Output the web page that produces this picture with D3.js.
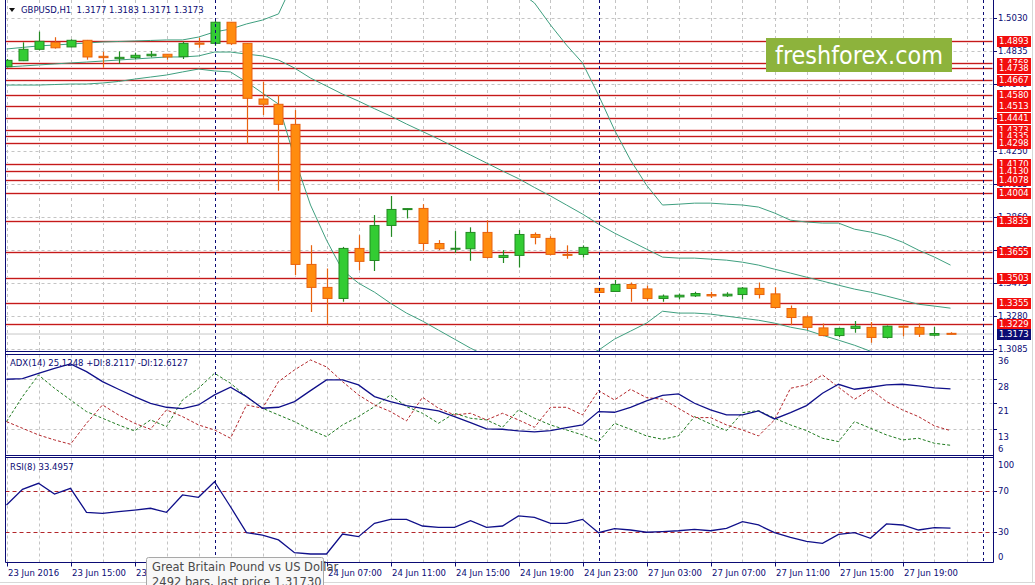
<!DOCTYPE html>
<html>
<head>
<meta charset="utf-8">
<script src="https://cdn.jsdelivr.net/npm/d3@7"></script>
<style>
  html, body { margin: 0; padding: 0; background: #fff; }
  svg { display: block; }
  text { font-family: "DejaVu Sans", sans-serif; }
</style>
</head>
<body>
<svg width="1035" height="585"></svg>
<script>
// GBPUSD H1, 23 Jun 11:00 -> 27 Jun 22:00 (one value per bar)
const open  = [1.4744,1.4779,1.4846,1.4887,1.4860,1.4899,1.4805,1.4791,1.4797,1.4808,1.4817,1.4803,1.4883,1.4881,1.5005,1.4881,1.4554,1.4523,1.4405,1.3582,
               1.3447,1.3382,1.3676,1.3605,1.3811,1.3906,1.3911,1.3705,1.3674,1.3674,1.3770,1.3623,1.3635,1.3758,1.3735,1.3641,1.3641,1.3441,1.3423,1.3464,
               1.3438,1.3382,1.3391,1.3397,1.3405,1.3397,1.3405,1.3441,1.3409,1.3323,1.3274,1.3209,1.3164,1.3206,1.3212,1.3153,1.3219,1.3212,1.3166,1.3177];
const high  = [1.4789,1.4887,1.4950,1.4917,1.4905,1.4901,1.4832,1.4834,1.4826,1.4836,1.4818,1.4891,1.4914,1.5014,1.5007,1.4883,1.4656,1.4577,1.4489,1.3695,
               1.3558,1.3685,1.3754,1.3872,1.3984,1.3911,1.3936,1.3725,1.3778,1.3800,1.3842,1.3666,1.3784,1.3770,1.3748,1.3694,1.3694,1.3443,1.3490,1.3476,
               1.3458,1.3405,1.3411,1.3421,1.3421,1.3419,1.3450,1.3476,1.3448,1.3341,1.3284,1.3235,1.3212,1.3250,1.3244,1.3223,1.3225,1.3235,1.3215,1.3183];
const low   = [1.4739,1.4777,1.4840,1.4850,1.4857,1.4785,1.4738,1.4761,1.4787,1.4799,1.4785,1.4789,1.4855,1.4866,1.4871,1.4293,1.4460,1.4015,1.3519,1.3303,
               1.3231,1.3362,1.3548,1.3544,1.3744,1.3852,1.3662,1.3666,1.3650,1.3603,1.3617,1.3591,1.3564,1.3700,1.3635,1.3615,1.3623,1.3413,1.3422,1.3362,
               1.3368,1.3362,1.3376,1.3391,1.3385,1.3391,1.3376,1.3382,1.3323,1.3225,1.3196,1.3160,1.3156,1.3180,1.3121,1.3147,1.3160,1.3156,1.3160,1.3171];
const close = [1.4781,1.4846,1.4893,1.4855,1.4899,1.4801,1.4797,1.4799,1.4811,1.4817,1.4801,1.4881,1.4876,1.5005,1.4879,1.4558,1.4523,1.4405,1.3582,1.3447,
               1.3382,1.3676,1.3600,1.3811,1.3905,1.3910,1.3705,1.3674,1.3677,1.3770,1.3623,1.3635,1.3758,1.3741,1.3641,1.3637,1.3682,1.3417,1.3464,1.3441,
               1.3382,1.3396,1.3401,1.3411,1.3397,1.3407,1.3443,1.3405,1.3329,1.3270,1.3212,1.3164,1.3206,1.3219,1.3153,1.3219,1.3216,1.3172,1.3176,1.3173];

// Bollinger bands
const bbUpper  = [1.4848,1.4857,1.4866,1.4871,1.4877,1.4883,1.4889,1.4892,1.4895,1.4898,1.4901,1.4901,1.4918,1.4948,1.4965,1.4995,1.5018,1.5054,1.5254,1.5430,
                  1.5548,1.5606,1.5606,1.5577,1.5548,1.5518,1.5477,1.5442,1.5401,1.5359,1.5312,1.5254,1.5189,1.5118,1.4989,1.4871,1.4766,1.4577,1.4372,1.4195,
                  1.4048,1.3931,1.3936,1.3942,1.3942,1.3936,1.3931,1.3919,1.3884,1.3842,1.3831,1.3825,1.3825,1.3789,1.3772,1.3748,1.3713,1.3666,1.3625,1.3578];
const bbMiddle = [1.4742,1.4748,1.4754,1.4760,1.4766,1.4771,1.4777,1.4783,1.4789,1.4795,1.4801,1.4801,1.4807,1.4830,1.4830,1.4818,1.4807,1.4783,1.4736,1.4677,
                  1.4630,1.4583,1.4542,1.4497,1.4454,1.4407,1.4363,1.4319,1.4272,1.4225,1.4178,1.4131,1.4086,1.4034,1.3984,1.3931,1.3878,1.3819,1.3766,1.3719,
                  1.3672,1.3625,1.3619,1.3619,1.3613,1.3607,1.3595,1.3578,1.3554,1.3531,1.3507,1.3484,1.3460,1.3437,1.3419,1.3396,1.3372,1.3348,1.3337,1.3325];
const bbLower  = [1.4636,1.4636,1.4636,1.4639,1.4642,1.4642,1.4648,1.4657,1.4671,1.4683,1.4695,1.4713,1.4730,1.4719,1.4713,1.4654,1.4589,1.4524,1.4207,1.3931,
                  1.3725,1.3548,1.3472,1.3419,1.3354,1.3296,1.3249,1.3196,1.3143,1.3090,1.3043,1.3007,1.2984,1.2972,1.2984,1.3007,1.3037,1.3078,1.3143,1.3190,
                  1.3237,1.3307,1.3296,1.3296,1.3290,1.3278,1.3266,1.3254,1.3237,1.3213,1.3196,1.3166,1.3137,1.3107,1.3072,1.3049,1.3031,1.3019,1.3007,1.3002];

// ADX(14)
const adxMain = [28.0,28.2,29.8,31.3,32.6,30.3,27.3,25.0,22.8,20.8,19.6,19.2,20.3,23.3,25.6,22.8,19.3,19.6,21.3,24.6,
                 27.8,27.8,26.3,22.8,21.3,20.1,19.3,18.5,16.8,15.0,13.1,13.0,12.5,12.2,12.6,13.5,14.3,18.3,18.1,19.6,
                 21.5,23.2,23.6,20.8,18.8,17.3,17.3,18.5,16.1,18.0,20.1,23.8,26.5,25.0,25.6,26.3,26.5,26.0,25.4,25.1];
const plusDI  = [15.3,22.8,29.3,25.3,21.8,18.3,16.3,14.3,12.5,15.8,13.8,21.8,25.3,29.8,26.8,22.8,19.3,17.3,15.3,12.8,
                 10.8,14.3,16.8,19.8,23.3,19.8,17.8,14.8,17.8,16.3,15.8,13.6,18.8,16.3,14.3,12.8,11.3,9.3,14.8,13.0,
                 11.0,10.0,11.0,16.8,14.6,12.6,18.0,18.6,16.3,14.3,12.6,10.3,9.3,15.3,13.3,11.3,9.8,10.3,8.8,8.2];
const minusDI = [15.3,13.3,11.3,9.8,8.5,14.8,20.3,17.3,14.8,13.0,18.8,16.8,14.3,12.8,10.3,20.3,19.3,27.3,30.8,33.8,
                 31.7,27.3,23.3,20.3,18.3,15.5,22.6,19.3,17.3,17.8,15.8,17.8,15.8,13.6,19.6,19.6,17.3,24.6,21.8,25.0,
                 22.5,22.0,19.3,16.5,16.5,14.3,12.8,11.0,15.8,25.3,26.3,29.3,25.6,22.0,25.0,21.3,18.8,16.8,14.0,12.6];

// RSI(8)
const rsi = [56.0,71.3,77.2,66.7,72.3,48.9,47.9,49.5,51.1,52.8,48.9,65.8,63.5,78.7,54.3,29.0,26.7,21.9,9.5,8.2,
             8.2,27.7,25.1,38.1,42.0,42.0,35.5,34.2,34.2,40.7,34.2,35.5,45.3,44.0,38.1,38.1,42.0,29.0,32.9,31.6,
             29.4,30.1,30.9,32.3,30.9,33.3,39.7,36.5,29.0,24.5,20.6,18.6,27.4,29.0,23.5,37.5,36.5,31.6,33.9,33.5];

// horizontal levels and axis ticks
const levels = [1.4893,1.4768,1.4738,1.4667,1.4580,1.4513,1.4441,1.4373,1.4335,1.4298,1.4170,1.4130,1.4078,1.4004,1.3835,1.3655,1.3503,1.3355,1.3229];
const lastPrice = 1.3173;
const priceTicks = ["1.5030","1.4835","1.4640","1.4445","1.4250","1.4055","1.3860","1.3665","1.3475","1.3280","1.3085"];
const adxTicks = [36, 28, 21, 13, 6];
const rsiTicks = [100, 70, 30, 0];
const rsiLevels = [70, 30];
const timeTickBars = [0,4,8,12,16,20,24,28,32,36,40,44,48,52,56];
const timeTickLabels = ["23 Jun 2016","23 Jun 15:00","23 Jun 19:00","23 Jun 23:00","24 Jun 03:00","24 Jun 07:00","24 Jun 11:00",
                        "24 Jun 15:00","24 Jun 19:00","24 Jun 23:00","27 Jun 03:00","27 Jun 07:00","27 Jun 11:00","27 Jun 15:00","27 Jun 19:00"];
const daySeparators = [13, 37, 61];

const navy = "#0b0b74", gridCol = "#c4c4c4";
const L = 5.5, R = 993;
const mainP = {top: 0, bottom: 351.5};
const adxP = {top: 354.5, bottom: 455.5};
const rsiP = {top: 457.5, bottom: 562.5};

const svg = d3.select("svg");
const x = d3.scaleLinear().domain([0, 61]).range([6.5, 982.5]);
const yPrice = d3.scaleLinear().domain([1.3085, 1.5030]).range([349, 18]);
const yAdx = d3.scaleLinear().domain([6, 36]).range([452.6, 352.6]);
const yRsi = d3.scaleLinear().domain([0, 100]).range([562.4, 459.9]);
const n = close.length;

// clip rects
const defs = svg.append("defs");
[["clipMain", mainP], ["clipAdx", adxP], ["clipRsi", rsiP]].forEach(([id, p]) => {
  defs.append("clipPath").attr("id", id).append("rect")
    .attr("x", L + 0.5).attr("y", p.top).attr("width", R - L - 1).attr("height", p.bottom - p.top);
});

const gMain = svg.append("g").attr("clip-path", "url(#clipMain)");
const gAdx = svg.append("g").attr("clip-path", "url(#clipAdx)");
const gRsi = svg.append("g").attr("clip-path", "url(#clipRsi)");

// vertical grid every 2 bars
const gridBars = d3.range(0, 62, 2);
[[gMain, mainP], [gAdx, adxP], [gRsi, rsiP]].forEach(([g, p]) => {
  g.selectAll("line.vgrid").data(gridBars).enter().append("line")
    .attr("x1", d => Math.round(x(d)) + 0.5).attr("x2", d => Math.round(x(d)) + 0.5)
    .attr("y1", p.top).attr("y2", p.bottom)
    .attr("stroke", gridCol).attr("stroke-dasharray", "3,3");
});
gMain.selectAll("line.hgrid").data(priceTicks).enter().append("line")
  .attr("x1", L).attr("x2", R)
  .attr("y1", d => Math.round(yPrice(+d)) + 0.5).attr("y2", d => Math.round(yPrice(+d)) + 0.5)
  .attr("stroke", gridCol).attr("stroke-dasharray", "3,3");
gAdx.selectAll("line.hgrid").data([28, 21, 13]).enter().append("line")
  .attr("x1", L).attr("x2", R)
  .attr("y1", d => Math.round(yAdx(d)) + 0.5).attr("y2", d => Math.round(yAdx(d)) + 0.5)
  .attr("stroke", gridCol).attr("stroke-dasharray", "3,3");

// bid line
gMain.append("line").attr("x1", L).attr("x2", R)
  .attr("y1", yPrice(lastPrice)).attr("y2", yPrice(lastPrice))
  .attr("stroke", "#c8c8c8");

// red levels (halo + core)
levels.forEach(v => {
  const y = Math.round(yPrice(v)) + 0.5;
  gMain.append("line").attr("x1", L).attr("x2", R).attr("y1", y).attr("y2", y)
    .attr("stroke", "#f7d2d2").attr("stroke-width", 3);
  gMain.append("line").attr("x1", L).attr("x2", R).attr("y1", y).attr("y2", y)
    .attr("stroke", "#c41a1a").attr("stroke-width", 1);
});

// Bollinger bands
const bandLine = d3.line().x((d, i) => x(i)).y(d => yPrice(d));
[bbUpper, bbMiddle, bbLower].forEach(arr => {
  gMain.append("path").attr("d", bandLine(arr))
    .attr("fill", "none").attr("stroke", "#3f9f7f").attr("stroke-width", 1);
});

// candles
const candles = gMain.selectAll("g.candle").data(d3.range(n)).enter().append("g");
candles.append("line")
  .attr("x1", i => Math.round(x(i)) + 0.5).attr("x2", i => Math.round(x(i)) + 0.5)
  .attr("y1", i => yPrice(high[i])).attr("y2", i => yPrice(low[i]))
  .attr("stroke", i => close[i] >= open[i] ? "#238a23" : "#e8620e").attr("stroke-width", 1.2);
candles.append("rect")
  .attr("x", i => Math.round(x(i)) - 4)
  .attr("y", i => yPrice(Math.max(open[i], close[i])))
  .attr("width", 9)
  .attr("height", i => Math.max(1, Math.abs(yPrice(open[i]) - yPrice(close[i]))))
  .attr("fill", i => close[i] >= open[i] ? "#33cc33" : "#ff8c0f")
  .attr("stroke", i => close[i] >= open[i] ? "#238a23" : "#e8620e")
  .attr("stroke-width", 1);

// ADX lines
const adxLine = d3.line().x((d, i) => x(i)).y(d => yAdx(d));
gAdx.append("path").attr("d", adxLine(plusDI)).attr("fill", "none")
  .attr("stroke", "#1f7a1f").attr("stroke-dasharray", "3,2");
gAdx.append("path").attr("d", adxLine(minusDI)).attr("fill", "none")
  .attr("stroke", "#b3262a").attr("stroke-dasharray", "3,2");
gAdx.append("path").attr("d", adxLine(adxMain)).attr("fill", "none")
  .attr("stroke", "#10108a").attr("stroke-width", 1.3);

// RSI
rsiLevels.forEach(v => {
  gRsi.append("line").attr("x1", L).attr("x2", R)
    .attr("y1", Math.round(yRsi(v)) + 0.5).attr("y2", Math.round(yRsi(v)) + 0.5)
    .attr("stroke", "#b3262a").attr("stroke-dasharray", "4,3");
});
gRsi.append("path").attr("d", d3.line().x((d, i) => x(i)).y(d => yRsi(d))(rsi))
  .attr("fill", "none").attr("stroke", "#10108a").attr("stroke-width", 1.3);

// day separators
daySeparators.forEach(b => {
  svg.append("line").attr("x1", Math.round(x(b)) + 0.5).attr("x2", Math.round(x(b)) + 0.5)
    .attr("y1", 0).attr("y2", rsiP.bottom)
    .attr("stroke", navy).attr("stroke-dasharray", "3,3");
});

// frame
const frame = svg.append("g").attr("stroke", navy).attr("stroke-width", 1);
frame.append("line").attr("x1", L).attr("x2", L).attr("y1", 0).attr("y2", rsiP.bottom);
frame.append("line").attr("x1", R + 0.5).attr("x2", R + 0.5).attr("y1", 0).attr("y2", rsiP.bottom);
[mainP.bottom, adxP.top, adxP.bottom, rsiP.top, rsiP.bottom].forEach(y => {
  frame.append("line").attr("x1", L).attr("x2", R + 0.5).attr("y1", y).attr("y2", y);
});
svg.append("line").attr("x1", 0).attr("x2", 1035).attr("y1", 582.5).attr("y2", 582.5).attr("stroke", "#d8d8d8");
svg.append("line").attr("x1", 1032.5).attr("x2", 1032.5).attr("y1", 0).attr("y2", 583).attr("stroke", "#d8d8d8");

// price axis
const axisG = svg.append("g").attr("font-size", 8.5).attr("fill", navy);
priceTicks.forEach(t => {
  const y = Math.round(yPrice(+t)) + 0.5;
  svg.append("line").attr("x1", R).attr("x2", R + 4).attr("y1", y).attr("y2", y).attr("stroke", navy);
  axisG.append("text").attr("x", 998).attr("y", y).attr("dy", "0.35em").text(t);
});
levels.forEach(v => {
  const y = Math.round(yPrice(v));
  svg.append("rect").attr("x", 997).attr("y", y - 5).attr("width", 34).attr("height", 11).attr("fill", "#f20d0d");
  svg.append("text").attr("x", 999).attr("y", y + 0.5).attr("dy", "0.35em")
    .attr("font-size", 8.5).attr("fill", "#fff").text(v.toFixed(4));
});
{
  const y = Math.round(yPrice(lastPrice));
  svg.append("rect").attr("x", 997).attr("y", y - 5).attr("width", 34).attr("height", 11).attr("fill", "#0b0b74");
  svg.append("text").attr("x", 999).attr("y", y + 0.5).attr("dy", "0.35em")
    .attr("font-size", 8.5).attr("fill", "#fff").text(lastPrice.toFixed(4));
}

// ADX axis
adxTicks.forEach(t => {
  const y = yAdx(t);
  if (t !== 36 && t !== 6)
    svg.append("line").attr("x1", R).attr("x2", R + 4).attr("y1", Math.round(y) + 0.5).attr("y2", Math.round(y) + 0.5).attr("stroke", navy);
  axisG.append("text").attr("x", 998).attr("y", Math.min(y + 8, 449)).attr("dy", "0.35em").text(t);
});
// RSI axis
rsiTicks.forEach(t => {
  const y = Math.min(Math.max(yRsi(t), 465), 557);
  if (t === 70 || t === 30)
    svg.append("line").attr("x1", R).attr("x2", R + 4).attr("y1", Math.round(yRsi(t)) + 0.5).attr("y2", Math.round(yRsi(t)) + 0.5).attr("stroke", navy);
  axisG.append("text").attr("x", 998).attr("y", y).attr("dy", "0.35em").text(t);
});

// time axis
timeTickBars.forEach((b, k) => {
  const xx = Math.round(x(b)) + 0.5;
  svg.append("line").attr("x1", xx).attr("x2", xx).attr("y1", rsiP.bottom).attr("y2", rsiP.bottom + 4).attr("stroke", navy);
  axisG.append("text").attr("x", xx + 0.5).attr("y", 573).attr("dy", "0.35em").text(timeTickLabels[k]);
});

// headers
svg.append("path").attr("d", "M9,8 L15,8 L12,12 Z").attr("fill", "#111");
svg.append("text").attr("x", 21).attr("y", 10).attr("dy", "0.35em").attr("font-size", 8.5)
  .attr("fill", navy).style("white-space", "pre")
  .text("GBPUSD,H1  1.3177 1.3183 1.3171 1.3173");
svg.append("text").attr("x", 10).attr("y", 363).attr("dy", "0.35em").attr("font-size", 8.5)
  .attr("fill", navy).text("ADX(14) 25.1248 +DI:8.2117 -DI:12.6127");
svg.append("text").attr("x", 10).attr("y", 467).attr("dy", "0.35em").attr("font-size", 8.5)
  .attr("fill", navy).text("RSI(8) 33.4957");

// logo
svg.append("rect").attr("x", 766).attr("y", 38).attr("width", 186).attr("height", 34).attr("fill", "#8db33c");
svg.append("text").attr("x", 775).attr("y", 63.5).attr("font-family", "'Open Sans', sans-serif")
  .attr("font-size", 24).attr("fill", "#fff").attr("textLength", 168).attr("lengthAdjust", "spacingAndGlyphs")
  .text("freshforex.com");

// tooltip
svg.append("rect").attr("x", 146.5).attr("y", 557.5).attr("width", 177).attr("height", 34).attr("rx", 2)
  .attr("fill", "#f8f8f8").attr("stroke", "#a8a8a8");
svg.append("text").attr("x", 152).attr("y", 571).attr("font-family", "'Noto Sans', sans-serif")
  .attr("font-size", 11.5).attr("fill", "#4a4a4a").text("Great Britain Pound vs US Dollar");
svg.append("text").attr("x", 152).attr("y", 586).attr("font-family", "'Noto Sans', sans-serif")
  .attr("font-size", 11.5).attr("fill", "#4a4a4a").text("2492 bars, last price 1.31730");
</script>
</body>
</html>
